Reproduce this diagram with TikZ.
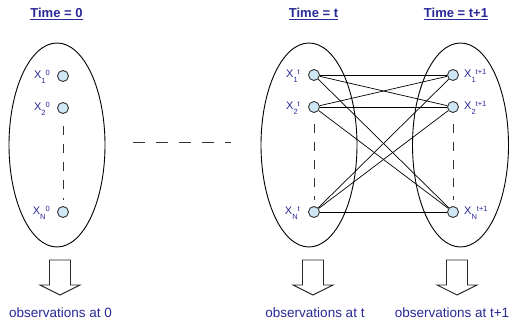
\documentclass[tikz,border=0pt]{standalone}
\usepackage{fontspec}
\setmainfont{Liberation Sans}
\usetikzlibrary{shapes.geometric}
\definecolor{txt}{RGB}{40,40,150}
\definecolor{nodefill}{RGB}{207,231,245}
\newcommand{\myvar}[2]{X\raisebox{-4.6pt}{\fontsize{7.5}{8}\selectfont #1}\raisebox{3pt}{\fontsize{7.5}{8}\selectfont #2}}
\begin{document}
\begin{tikzpicture}[x=1pt,y=-1pt,
 state/.style={circle,draw=black!80,fill=nodefill,line width=0.9pt,minimum size=11pt,inner sep=0pt},
 group/.style={ellipse,draw=black,line width=0.9pt,minimum width=96pt,minimum height=204pt,inner sep=0pt},
 title/.style={text=txt,font=\fontsize{13}{15}\selectfont\bfseries,inner sep=0pt,anchor=base},
 obs/.style={text=txt,font=\fontsize{13.5}{16}\selectfont,inner sep=0pt,anchor=base},
 lab/.style={text=txt,font=\fontsize{11}{13}\selectfont,inner sep=0pt},
 blockarrow/.style={draw=black!85,line width=0.9pt,fill=white},
 link/.style={draw=black,line width=0.7pt},
 vdash/.style={draw=black!80,line width=0.9pt,dash pattern=on 9pt off 9pt},
 hdash/.style={draw=black!80,line width=0.9pt,dash pattern=on 12pt off 11pt}]
\useasboundingbox (0,0) rectangle (519,328);

% groups
\node[group] (g0) at (57,145) {};
\node[group] (gt) at (309,145) {};
\node[group] (gt1) at (460.5,145) {};

% titles
\node[title] (h0) at (56.5,18) {\underline{Time = 0}};
\node[title] (ht) at (313.5,18) {\underline{Time = t}};
\node[title] (ht1) at (456,18) {\underline{Time = t+1}};

% states
\node[state] (a1) at (63,76) {};
\node[state] (a2) at (63,108) {};
\node[state] (aN) at (63,212) {};
\node[state] (b1) at (314,75) {};
\node[state] (b2) at (314,107) {};
\node[state] (bN) at (314,212) {};
\node[state] (c1) at (453,75) {};
\node[state] (c2) at (453,107) {};
\node[state] (cN) at (453,212) {};

% labels
\node[lab,anchor=base east] (la1) at (50,79) {\myvar{1}{0}};
\node[lab,anchor=base east] (la2) at (50,111) {\myvar{2}{0}};
\node[lab,anchor=base east] (laN) at (50,215) {\myvar{N}{0}};
\node[lab,anchor=base east] (lb1) at (300,78) {\myvar{1}{t}};
\node[lab,anchor=base east] (lb2) at (300,110) {\myvar{2}{t}};
\node[lab,anchor=base east] (lbN) at (300,215) {\myvar{N}{t}};
\node[lab,anchor=base west] (lc1) at (464,78) {\myvar{1}{t+1}};
\node[lab,anchor=base west] (lc2) at (464,110) {\myvar{2}{t+1}};
\node[lab,anchor=base west] (lcN) at (464,215) {\myvar{N}{t+1}};

% vertical dashes
\draw[vdash,shorten <=12pt,shorten >=6pt] (a2) -- (aN);
\draw[vdash,shorten <=11pt,shorten >=6pt] (b2) -- (bN);
\draw[vdash,shorten <=11pt,shorten >=6pt] (c2) -- (cN);

% horizontal dashes
\coordinate (d0) at (133,142);
\coordinate (d1) at (231,142);
\draw[hdash] (d0) -- (d1);

% links
\foreach \s in {b1,b2,bN}{
  \foreach \d in {c1,c2,cN}{
    \draw[link] (\s) -- (\d);
  }
}

% block arrows
\foreach \cx in {60,313,457}{
  \draw[blockarrow] (\cx-10.5,260) -- (\cx+10.5,260) -- (\cx+10.5,285) -- (\cx+20,285)
     -- (\cx,295) -- (\cx-20,285) -- (\cx-10.5,285) -- cycle;
}

% observation texts
\node[obs] (o0) at (60.5,318) {observations at 0};
\node[obs] (ot) at (315,318) {observations at t};
\node[obs] (ot1) at (452,318) {observations at t+1};
\end{tikzpicture}
\end{document}
